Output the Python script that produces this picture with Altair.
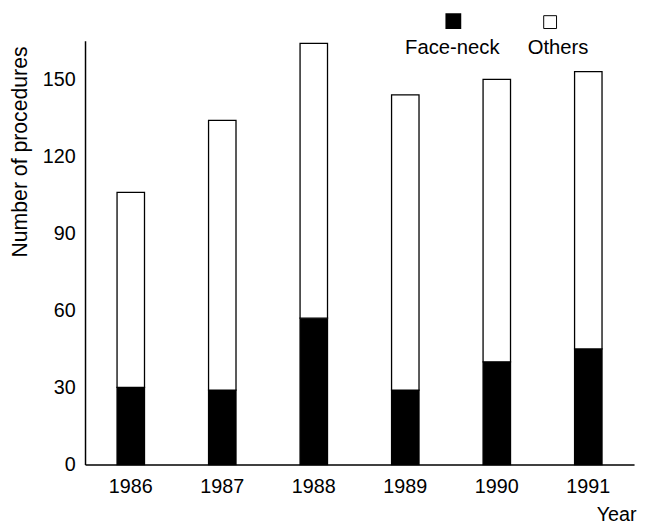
import altair as alt
import pandas as pd

years = ["1986", "1987", "1988", "1989", "1990", "1991"]
face_neck = [30, 29, 57, 29, 40, 45]
others = [76, 105, 107, 115, 110, 108]
series = ["Face-neck", "Others"]
y_ticks = [0, 30, 60, 90, 120, 150]

FONT = "Liberation Sans"

rows = []
for i, yr in enumerate(years):
    rows.append({"year": yr, "group": series[0], "count": face_neck[i], "order": 0})
    rows.append({"year": yr, "group": series[1], "count": others[i], "order": 1})
df = pd.DataFrame(rows)

bars = alt.Chart(df).mark_bar(stroke="black", strokeWidth=1.3).encode(
    x=alt.X(
        "year:N",
        sort=years,
        scale=alt.Scale(paddingInner=0.7, paddingOuter=0.35),
        axis=alt.Axis(
            title="Year",
            labelAngle=0,
            ticks=False,
            grid=False,
            labelPadding=12,
            labelFontSize=20,
            labelFont=FONT,
            labelColor="black",
            titleFont=FONT,
            titleFontSize=20,
            titleFontWeight="normal",
            titleColor="black",
            titleAlign="right",
            titleBaseline="alphabetic",
            titleX=558,
            titleY=57,
            domainColor="black",
            domainWidth=1.5,
        ),
    ),
    y=alt.Y(
        "count:Q",
        stack="zero",
        scale=alt.Scale(domain=[0, 165], nice=False),
        axis=alt.Axis(
            title="Number of procedures",
            values=y_ticks,
            ticks=False,
            grid=False,
            labelPadding=10,
            labelFontSize=20,
            labelFont=FONT,
            labelColor="black",
            titleFont=FONT,
            titleFontSize=21.5,
            titleFontWeight="normal",
            titleColor="black",
            titleAngle=270,
            titleAlign="center",
            titleBaseline="middle",
            titleX=-65,
            titleY=112,
            domainColor="black",
            domainWidth=1.5,
        ),
    ),
    color=alt.Color(
        "group:N",
        scale=alt.Scale(domain=series, range=["black", "white"]),
        legend=None,
    ),
    order=alt.Order("order:Q"),
)

leg1 = pd.DataFrame({"label": [series[0]]})
leg2 = pd.DataFrame({"label": [series[1]]})

sq1 = alt.Chart(leg1).mark_square(size=196, fill="black", stroke="black", filled=True, opacity=1).encode(
    x=alt.value(373), y=alt.value(-20)
)
sq2 = alt.Chart(leg2).mark_square(size=169, fill="white", stroke="black", strokeWidth=1, filled=True, opacity=1).encode(
    x=alt.value(471), y=alt.value(-19)
)
t1 = alt.Chart(leg1).mark_text(font=FONT, fontSize=20.5, color="black", baseline="middle").encode(
    x=alt.value(372), y=alt.value(7), text="label:N"
)
t2 = alt.Chart(leg2).mark_text(font=FONT, fontSize=20.5, color="black", baseline="middle").encode(
    x=alt.value(479), y=alt.value(7), text="label:N"
)

chart = alt.layer(bars, sq1, sq2, t1, t2).properties(
    width=556,
    height=429,
    autosize=alt.AutoSizeParams(type="none"),
    padding={"left": 78, "top": 30, "right": 4, "bottom": 58},
    background="white",
).configure_view(stroke=None)

chart.save("out.html", embed_options={"renderer": "svg", "actions": False})
